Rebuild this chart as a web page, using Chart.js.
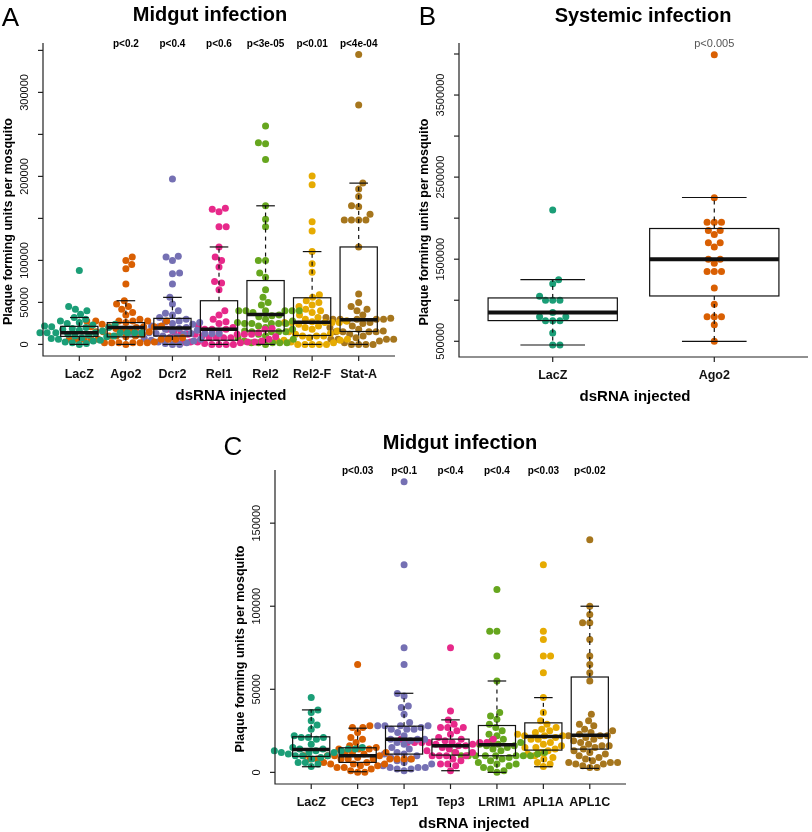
<!DOCTYPE html>
<html>
<head>
<meta charset="utf-8">
<script src="https://cdn.jsdelivr.net/npm/chart.js@4.4.1/dist/chart.umd.min.js"></script>
<style>
  body { margin: 0; background: #fff; width: 812px; height: 832px; position: relative; overflow: hidden; }
  canvas { position: absolute; }
</style>
</head>
<body>
<canvas id="panelA" width="406" height="412" style="left:0px;top:0px;width:406px;height:412px"></canvas>
<canvas id="panelB" width="406" height="412" style="left:406px;top:0px;width:406px;height:412px"></canvas>
<canvas id="panelC" width="440" height="420" style="left:200px;top:412px;width:440px;height:420px"></canvas>
<script>
// ---- Panel A : midgut infection ----
const catsA = ["LacZ", "Ago2", "Dcr2", "Rel1", "Rel2", "Rel2-F", "Stat-A"];
const pValsA = ["", "p<0.2", "p<0.4", "p<0.6", "p<3e-05", "p<0.01", "p<4e-04"];
const colorsA = ["#1B9E77", "#D95F02", "#7570B3", "#E7298A", "#66A61E", "#E6AB02", "#A6761D"];
const yTicksA = [0, 50000, 100000, 150000, 200000, 250000, 300000, 350000];
const yLabelsA = ["0", "50000", "100000", "", "200000", "", "300000", ""];

const A_LacZ = [88000, 45000, 42000, 40000, 36000, 32000, 30000, 28000, 26000, 25000, 24000, 23000, 22000, 21000, 20000, 20000, 19000, 18000, 17000, 16000, 15000, 14000, 14000, 14000, 14000, 14000, 14000, 14000, 14000, 14000, 14000, 14000, 12000, 11000, 10000, 10000, 9000, 8000, 7000, 6000, 5000, 4000, 3000, 2000, 1000, 0];
const A_Ago2 = [104000, 100000, 95000, 90000, 72000, 52000, 48000, 45000, 42000, 38000, 35000, 30000, 28000, 28000, 28000, 28000, 28000, 28000, 26000, 24000, 22000, 21000, 21000, 21000, 21000, 20000, 19000, 18000, 16000, 15000, 15000, 15000, 12000, 10000, 10000, 10000, 9000, 8000, 6000, 6000, 6000, 6000, 6000, 6000, 6000, 6000, 3000, 2000, 2000, 2000, 2000, 2000, 2000, 0];
const A_Dcr2 = [197000, 105000, 104000, 100000, 85000, 84000, 72000, 56000, 48000, 40000, 37000, 35000, 32000, 30000, 28000, 27000, 26000, 25000, 24000, 22000, 21000, 20000, 20000, 19000, 18000, 17000, 16000, 15000, 14000, 13000, 13000, 13000, 13000, 13000, 13000, 13000, 12000, 10000, 9000, 8000, 7000, 6000, 5000, 4000, 3000, 2000, 1000, 0, 0];
const A_Rel1 = [162000, 161000, 158000, 140000, 140000, 116000, 104000, 100000, 92000, 75000, 73000, 65000, 40000, 35000, 30000, 27000, 25000, 22000, 20000, 19000, 18000, 18000, 18000, 18000, 18000, 16000, 15000, 14000, 13000, 12000, 12000, 12000, 12000, 12000, 10000, 9000, 8000, 8000, 8000, 8000, 8000, 8000, 6000, 5000, 4000, 3000, 3000, 3000, 3000, 3000, 2000, 1000, 0, 0, 0, 0];
const A_Rel2 = [260000, 240000, 239000, 220000, 165000, 149000, 140000, 100000, 100000, 85000, 80000, 65000, 56000, 50000, 47000, 40000, 40000, 40000, 40000, 40000, 40000, 38000, 35000, 34000, 33000, 30000, 28000, 26000, 25000, 25000, 25000, 25000, 25000, 22000, 20000, 18000, 16000, 15000, 15000, 15000, 15000, 12000, 10000, 8000, 6000, 4000, 2000, 2000, 2000, 2000, 2000, 0];
const A_Rel2F = [200500, 190000, 146000, 135000, 110500, 96000, 86000, 59000, 56000, 52000, 50000, 47000, 45000, 42000, 40000, 38000, 35000, 32000, 30000, 28000, 27000, 26000, 26000, 26000, 26000, 26000, 24000, 22000, 20000, 18000, 16000, 15000, 13000, 12000, 10000, 10000, 10000, 8000, 6000, 5000, 5000, 5000, 3000, 2000, 0, 0, 0, 0, 0];
const A_StatA = [345000, 285000, 192000, 185000, 176000, 165000, 164000, 155000, 148000, 148000, 148000, 148000, 116000, 60000, 50000, 45000, 42000, 40000, 35000, 32000, 31000, 30000, 30000, 30000, 30000, 30000, 28000, 26000, 25000, 22000, 20000, 18000, 16000, 15000, 15000, 15000, 15000, 12000, 10000, 8000, 6000, 6000, 6000, 6000, 4000, 2000, 0, 0, 0, 0];

// box statistics (lower whisker, Q1, median, Q3, upper whisker)
const loA  = [0, 0, 0, 0, 0, 0, 0];
const q1A  = [9500, 9000, 10000, 5000, 16000, 10600, 15400];
const medA = [14000, 20000, 19500, 18000, 35500, 26400, 29500];
const q3A  = [21500, 26000, 31000, 52000, 76000, 55500, 116000];
const hiA  = [32000, 52000, 56000, 116000, 165000, 110500, 192000];

// ---- Panel B : systemic infection ----
const catsB = ["LacZ", "Ago2"];
const pValsB = ["", "p<0.005"];
const colorsB = ["#1B9E77", "#D95F02"];
const yTicksB = [500000, 1000000, 1500000, 2000000, 2500000, 3000000, 3500000, 4000000];
const yLabelsB = ["500000", "", "1500000", "", "2500000", "", "3500000", ""];

const B_LacZ = [2100000, 1250000, 1200000, 1050000, 1000000, 1000000, 1000000, 850000, 800000, 800000, 750000, 750000, 750000, 600000, 455000, 455000];
const B_Ago2 = [3990000, 2250000, 1950000, 1950000, 1950000, 1850000, 1850000, 1800000, 1700000, 1700000, 1650000, 1500000, 1500000, 1450000, 1350000, 1350000, 1350000, 1150000, 950000, 800000, 800000, 800000, 700000, 500000];

const loB  = [455000, 500000];
const q1B  = [752000, 1052000];
const medB = [850000, 1500000];
const q3B  = [1028000, 1874000];
const hiB  = [1252000, 2252000];

// ---- Panel C : midgut infection ----
const catsC = ["LacZ", "CEC3", "Tep1", "Tep3", "LRIM1", "APL1A", "APL1C"];
const pValsC = ["", "p<0.03", "p<0.1", "p<0.4", "p<0.4", "p<0.03", "p<0.02"];
const colorsC = ["#1B9E77", "#D95F02", "#7570B3", "#E7298A", "#66A61E", "#E6AB02", "#A6761D"];
const yTicksC = [0, 50000, 100000, 150000];
const yLabelsC = ["0", "50000", "100000", "150000"];

const C_LacZ = [45000, 37500, 36000, 31000, 28500, 26000, 22000, 21000, 21000, 21000, 20000, 17000, 15000, 15000, 15000, 15000, 14000, 14000, 14000, 14000, 14000, 13000, 13000, 13000, 12000, 12000, 12000, 11000, 10000, 10000, 10000, 9000, 8000, 6000, 6000, 5000, 3500];
const C_CEC3 = [65000, 28000, 27000, 27000, 24000, 21000, 20000, 18000, 16000, 15000, 14000, 14000, 14000, 12000, 12000, 12000, 11000, 10000, 10000, 10000, 10000, 9000, 8000, 8000, 8000, 8000, 8000, 8000, 8000, 8000, 8000, 6000, 6000, 5000, 5000, 5000, 4000, 4000, 3000, 3000, 2000, 1000, 0, 0];
const C_Tep1 = [175000, 125000, 75000, 65000, 47500, 46000, 40000, 39000, 35000, 30000, 28000, 28000, 28000, 28000, 27000, 26000, 26000, 26000, 24000, 22000, 20000, 20000, 20000, 19000, 18000, 17000, 15000, 14000, 12000, 11000, 11000, 10000, 9000, 8000, 7000, 6000, 5000, 4000, 3000, 3000, 3000, 2000, 2000, 1000];
const C_Tep3 = [75000, 37000, 31500, 29000, 27000, 27000, 27000, 25000, 23000, 21000, 20000, 20000, 20000, 19000, 18000, 18000, 18000, 18000, 18000, 18000, 18000, 17000, 17000, 16000, 16000, 15000, 14000, 13000, 12000, 12000, 10000, 10000, 10000, 10000, 8000, 7000, 5000, 5000, 4000, 1000];
const C_LRIM1 = [110000, 85000, 85000, 70000, 55000, 36000, 34000, 32000, 29000, 27000, 25000, 23000, 22000, 20000, 19000, 18000, 17000, 17000, 16000, 16000, 15000, 14000, 13000, 12000, 12000, 11000, 10000, 10000, 10000, 10000, 10000, 10000, 10000, 10000, 9000, 8000, 7000, 6000, 5000, 5000, 4000, 3000, 2000, 1000, 0];
const C_APL1A = [125000, 85000, 80000, 70000, 70000, 60000, 45000, 36000, 31000, 29000, 27000, 26000, 25000, 24000, 23000, 22000, 22000, 22000, 21000, 20000, 20000, 18000, 17000, 16000, 15000, 15000, 14000, 13000, 12000, 11000, 10000, 9000, 8000, 6000, 5000, 3500];
const C_APL1C = [140000, 100000, 95000, 90000, 90000, 80000, 70000, 65000, 60000, 55000, 35000, 31000, 29000, 28000, 26000, 25000, 24000, 23000, 22000, 22000, 22000, 21000, 20000, 19000, 18000, 17000, 16000, 16000, 15000, 14000, 13000, 12000, 11000, 10000, 9000, 8000, 7000, 6000, 6000, 6000, 5000, 5000, 4000, 3000, 3000];

const loC  = [3400, 400, 1000, 1000, 0, 3400, 2400];
const q1C  = [9600, 6000, 11000, 10400, 10000, 13400, 14000];
const medC = [13800, 10000, 20000, 16000, 16600, 21600, 22400];
const q3C  = [21400, 14800, 27800, 20000, 28200, 29800, 57400];
const hiC  = [37600, 26600, 47600, 31600, 55000, 45000, 100000];

const FONT = "'Liberation Sans', Arial, Helvetica, sans-serif";
const SPACING = 7.2;   // beeswarm point spacing in px
const RADIUS = 3.5;

// layout of each panel (canvas coordinates)
const panels = [
  {
    id: "panelA", letter: "A", title: "Midgut infection", cats: catsA, colors: colorsA, pVals: pValsA,
    groups: [A_LacZ, A_Ago2, A_Dcr2, A_Rel1, A_Rel2, A_Rel2F, A_StatA],
    lo: loA, q1: q1A, med: medA, q3: q3A, hi: hiA,
    yTicks: yTicksA, yLabels: yLabelsA, yMin: -13800, yMax: 358800, xMin: 0.22, xMax: 7.78,
    padding: { left: 43, right: 11, top: 43, bottom: 56 },
    titleX: 210, titleY: 21, letterX: 10.5, letterY: 26, xTitleX: 231, medWidth: 3.5,
    pFont: "bold 10px " + FONT, pColor: "#000"
  },
  {
    id: "panelB", letter: "B", title: "Systemic infection", cats: catsB, colors: colorsB, pVals: pValsB,
    groups: [B_LacZ, B_Ago2],
    lo: loB, q1: q1B, med: medB, q3: q3B, hi: hiB,
    yTicks: yTicksB, yLabels: yLabelsB, yMin: 308500, yMax: 4134000, xMin: 0.42, xMax: 2.58,
    padding: { left: 53, right: 3, top: 43, bottom: 55 },
    titleX: 237, titleY: 21.5, letterX: 21.5, letterY: 25, xTitleX: 229, medWidth: 4,
    pFont: "11px " + FONT, pColor: "#555"
  },
  {
    id: "panelC", letter: "C", title: "Midgut infection", cats: catsC, colors: colorsC, pVals: pValsC,
    groups: [C_LacZ, C_CEC3, C_Tep1, C_Tep3, C_LRIM1, C_APL1A, C_APL1C],
    lo: loC, q1: q1C, med: medC, q3: q3C, hi: hiC,
    yTicks: yTicksC, yLabels: yLabelsC, yMin: -7000, yMax: 182000, xMin: 0.22, xMax: 7.78,
    padding: { left: 75, right: 14, top: 58, bottom: 48 },
    titleX: 260, titleY: 37.3, letterX: 33, letterY: 43, xTitleX: 274, medWidth: 3.5,
    pFont: "bold 10px " + FONT, pColor: "#000"
  }
];

function seg(ctx, x1, y1, x2, y2) {
  ctx.beginPath();
  ctx.moveTo(x1, y1);
  ctx.lineTo(x2, y2);
  ctx.stroke();
}

// R style boxplot drawn on top of the swarm
function drawBoxes(chart, p) {
  const ctx = chart.ctx, xs = chart.scales.x, ys = chart.scales.y;
  ctx.save();
  ctx.strokeStyle = "#111";
  p.cats.forEach((c, i) => {
    const cx = xs.getPixelForValue(i + 1);
    const hw = xs.getPixelForValue(i + 1.4) - cx;
    const cw = xs.getPixelForValue(i + 1.2) - cx;
    const yLo = ys.getPixelForValue(p.lo[i]);
    const yQ1 = ys.getPixelForValue(p.q1[i]);
    const yMed = ys.getPixelForValue(p.med[i]);
    const yQ3 = ys.getPixelForValue(p.q3[i]);
    const yHi = ys.getPixelForValue(p.hi[i]);
    ctx.lineWidth = 1.2;
    ctx.setLineDash([4, 4]);
    seg(ctx, cx, yQ3, cx, yHi);
    seg(ctx, cx, yQ1, cx, yLo);
    ctx.setLineDash([]);
    seg(ctx, cx - cw, yHi, cx + cw, yHi);
    seg(ctx, cx - cw, yLo, cx + cw, yLo);
    ctx.strokeRect(cx - hw, yQ3, 2 * hw, yQ1 - yQ3);
    ctx.lineWidth = p.medWidth;
    seg(ctx, cx - hw, yMed, cx + hw, yMed);
  });
  ctx.restore();
}

function drawFrame(chart, p) {
  const ctx = chart.ctx, a = chart.chartArea, xs = chart.scales.x, ys = chart.scales.y;
  ctx.save();
  ctx.strokeStyle = "#222";
  ctx.lineWidth = 1.2;
  // L shaped box
  ctx.beginPath();
  ctx.moveTo(a.left, a.top);
  ctx.lineTo(a.left, a.bottom);
  ctx.lineTo(a.right, a.bottom);
  ctx.stroke();

  // x axis ticks and category names
  ctx.fillStyle = "#111";
  ctx.textAlign = "center";
  ctx.textBaseline = "alphabetic";
  ctx.font = "bold 12.5px " + FONT;
  p.cats.forEach((c, i) => {
    const x = xs.getPixelForValue(i + 1);
    seg(ctx, x, a.bottom, x, a.bottom + 5);
    ctx.fillText(c, x, a.bottom + 22);
  });

  // p values above the groups
  ctx.font = p.pFont;
  ctx.fillStyle = p.pColor;
  p.pVals.forEach((t, i) => {
    if (t) ctx.fillText(t, xs.getPixelForValue(i + 1), a.top + 3.5);
  });

  // y axis ticks, rotated labels
  ctx.fillStyle = "#111";
  ctx.font = "11px " + FONT;
  p.yTicks.forEach((v, i) => {
    const y = ys.getPixelForValue(v);
    seg(ctx, a.left - 5, y, a.left, y);
    if (p.yLabels[i]) {
      ctx.save();
      ctx.translate(a.left - 18, y);
      ctx.rotate(-Math.PI / 2);
      ctx.textBaseline = "middle";
      ctx.fillText(p.yLabels[i], 0, 0);
      ctx.restore();
    }
  });

  // axis titles
  ctx.fillStyle = "#000";
  ctx.font = "bold 12.5px " + FONT;
  ctx.save();
  ctx.translate(a.left - 31, (a.top + a.bottom) / 2 + 22);
  ctx.rotate(-Math.PI / 2);
  ctx.fillText("Plaque forming units per mosquito", 0, 0);
  ctx.restore();
  ctx.font = "bold 15px " + FONT;
  ctx.fillText("dsRNA injected", p.xTitleX, a.bottom + 44);

  // title and panel letter
  ctx.font = "bold 20px " + FONT;
  ctx.fillText(p.title, p.titleX, p.titleY);
  ctx.font = "26px " + FONT;
  ctx.fillText(p.letter, p.letterX, p.letterY);
  ctx.restore();
}

// beeswarm: place each point (lowest first) as close to the centre as it can go
function swarmOffsets(py, d) {
  const order = py.map((y, i) => i).sort((a, b) => py[b] - py[a]);
  const out = new Array(py.length).fill(0);
  const placed = [];
  order.forEach(i => {
    const y = py[i];
    const near = placed.filter(q => Math.abs(q.y - y) < d);
    const cands = [0];
    near.forEach(q => {
      const off = Math.sqrt(d * d - (q.y - y) * (q.y - y));
      cands.push(q.x + off, q.x - off);
    });
    const bias = placed.reduce((s, q) => s + q.x, 0);
    cands.sort((a, b) => (Math.abs(a) - Math.abs(b)) || (bias > 0 ? a - b : b - a));
    const ok = cands.find(c => near.every(q => (c - q.x) ** 2 + (q.y - y) ** 2 >= d * d - 0.01));
    out[i] = ok;
    placed.push({ x: ok, y: y });
  });
  return out;
}

function applySwarm(chart) {
  const xs = chart.scales.x, ys = chart.scales.y;
  chart.data.datasets.forEach((ds, i) => {
    const cx = xs.getPixelForValue(i + 1);
    const py = ds.data.map(pt => ys.getPixelForValue(pt.y));
    const off = swarmOffsets(py, SPACING);
    ds.data.forEach((pt, k) => { pt.x = xs.getValueForPixel(cx + off[k]); });
  });
  chart.update("none");
}

panels.forEach(p => {
  const ctx = document.getElementById(p.id).getContext("2d");
  const chart = new Chart(ctx, {
    type: "scatter",
    data: {
      datasets: p.groups.map((g, i) => ({
        data: g.map(v => ({ x: i + 1, y: v })),
        backgroundColor: p.colors[i],
        borderWidth: 0,
        pointRadius: RADIUS,
        clip: false
      }))
    },
    options: {
      responsive: false,
      animation: false,
      events: [],
      layout: { padding: p.padding },
      plugins: { legend: { display: false }, tooltip: { enabled: false } },
      scales: {
        x: { type: "linear", min: p.xMin, max: p.xMax, display: false },
        y: { type: "linear", min: p.yMin, max: p.yMax, display: false }
      }
    },
    plugins: [{
      id: "rbox_" + p.id,
      afterDatasetsDraw(c) { drawBoxes(c, p); },
      afterDraw(c) { drawFrame(c, p); }
    }]
  });
  applySwarm(chart);
});
</script>
</body>
</html>
